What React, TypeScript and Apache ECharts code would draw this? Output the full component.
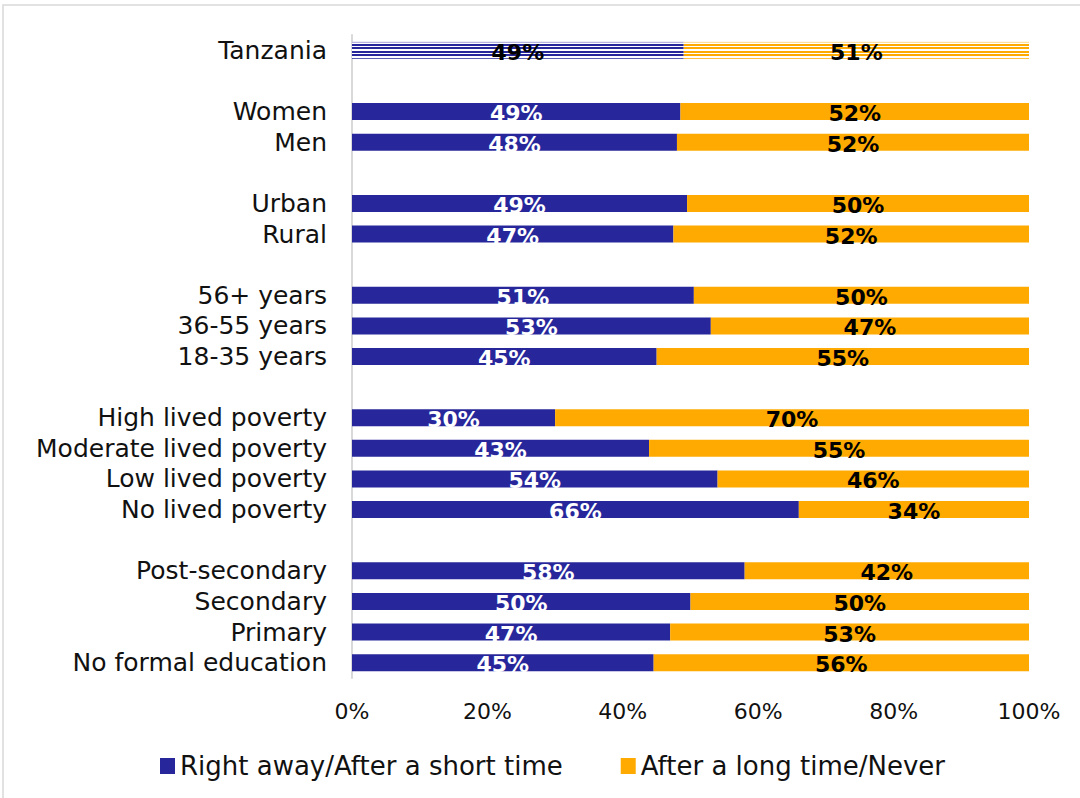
import React, { useEffect, useRef } from "react";
import * as echarts from "echarts";

const categories = [
  "Tanzania", " ",
  "Women", "Men", "  ",
  "Urban", "Rural", "   ",
  "56+ years", "36-55 years", "18-35 years", "    ",
  "High lived poverty", "Moderate lived poverty", "Low lived poverty", "No lived poverty", "     ",
  "Post-secondary", "Secondary", "Primary", "No formal education",
];

const rightAway: (number | null)[] = [
  49, null,
  49, 48, null,
  49, 47, null,
  51, 53, 45, null,
  30, 43, 54, 66, null,
  58, 50, 47, 45,
];

const longTime: (number | null)[] = [
  51, null,
  52, 52, null,
  50, 52, null,
  50, 47, 55, null,
  70, 55, 46, 34, null,
  42, 50, 53, 56,
];

const xTicks = [0, 20, 40, 60, 80, 100];
const seriesNames = ["Right away/After a short time", "After a long time/Never"];

const BLUE = "#27279B";
const YELLOW = "#FFAA00";
const BAR_H = 17;

function share(a: number | null, b: number | null, which: 0 | 1): number | null {
  if (a == null || b == null) return null;
  const t = a + b;
  return ((which === 0 ? a : b) / t) * 100;
}

// horizontal stripe fill (pattern of the "Tanzania" total bar)
function stripes(color: string, pale: string) {
  const bands: [number, number, string][] = [
    [0, 1, pale],
    [1, 2, "#ffffff"],
    [2, 4, color],
    [4, 5.5, "#ffffff"],
    [5.5, 7.5, color],
    [7.5, 9, "#ffffff"],
    [9, 11, color],
    [11, 12.5, "#ffffff"],
    [12.5, 14.5, color],
    [14.5, 16, "#ffffff"],
    [16, 17, color],
  ];
  const colorStops: { offset: number; color: string }[] = [];
  bands.forEach(([a, b, c]) => {
    colorStops.push({ offset: a / BAR_H, color: c });
    colorStops.push({ offset: b / BAR_H, color: c });
  });
  return { type: "linear", x: 0, y: 0, x2: 0, y2: 1, colorStops };
}

export default function App() {
  const ref = useRef<HTMLDivElement>(null);
  useEffect(() => {
    if (!ref.current) return;
    const chart = echarts.init(ref.current, null, { renderer: "svg" });
    const font = "'DejaVu Sans', sans-serif";
    const makeData = (which: 0 | 1, base: string, pale: string) =>
      categories.map((c, i) => {
        const v = share(rightAway[i], longTime[i], which);
        if (i === 0) {
          return {
            value: v,
            itemStyle: { color: stripes(base, pale) },
            label: { color: "#000" },
          };
        }
        return v;
      });
    chart.setOption({
      animation: false,
      grid: { left: 352, right: 51, top: 35, bottom: 120, containLabel: false },
      graphic: [
        {
          type: "rect",
          shape: { x: 3, y: 5, width: 1200, height: 900 },
          style: { fill: "none", stroke: "#d9d9d9", lineWidth: 1.5 },
          silent: true,
        },
      ],
      legend: {
        bottom: 14,
        left: 155,
        itemWidth: 15,
        itemHeight: 16,
        itemGap: 58,
        icon: "rect",
        textStyle: { fontFamily: font, fontSize: 26, color: "#111" },
        data: seriesNames,
      },
      xAxis: {
        type: "value",
        min: xTicks[0],
        max: xTicks[xTicks.length - 1],
        interval: 20,
        axisLine: { show: false },
        axisTick: { show: false },
        splitLine: { show: false },
        axisLabel: {
          formatter: "{value}%",
          fontFamily: font,
          fontSize: 22,
          color: "#111",
          margin: 22,
        },
      },
      yAxis: {
        type: "category",
        inverse: true,
        data: categories,
        axisLine: { show: true, lineStyle: { color: "#d9d9d9", width: 2 } },
        axisTick: { show: false },
        axisLabel: {
          interval: 0,
          fontFamily: font,
          fontSize: 25,
          color: "#111",
          margin: 25,
        },
      },
      series: [
        {
          name: seriesNames[0],
          type: "bar",
          stack: "total",
          barWidth: BAR_H,
          itemStyle: { color: BLUE },
          label: {
            show: true,
            position: "inside",
            fontFamily: font,
            fontWeight: "bold",
            fontSize: 22,
            color: "#fff",
            offset: [0, 2],
            formatter: (p: any) => `${rightAway[p.dataIndex]}%`,
          },
          data: makeData(0, BLUE, "#b4b4dc"),
        },
        {
          name: seriesNames[1],
          type: "bar",
          stack: "total",
          barWidth: BAR_H,
          itemStyle: { color: YELLOW },
          label: {
            show: true,
            position: "inside",
            fontFamily: font,
            fontWeight: "bold",
            fontSize: 22,
            color: "#000",
            offset: [0, 2],
            formatter: (p: any) => `${longTime[p.dataIndex]}%`,
          },
          data: makeData(1, YELLOW, "#ffdf9e"),
        },
      ],
    });
    return () => chart.dispose();
  }, []);
  return (
    <div
      ref={ref}
      style={{ position: "absolute", left: 0, top: 0, width: 1080, height: 798, background: "#fff" }}
    />
  );
}
